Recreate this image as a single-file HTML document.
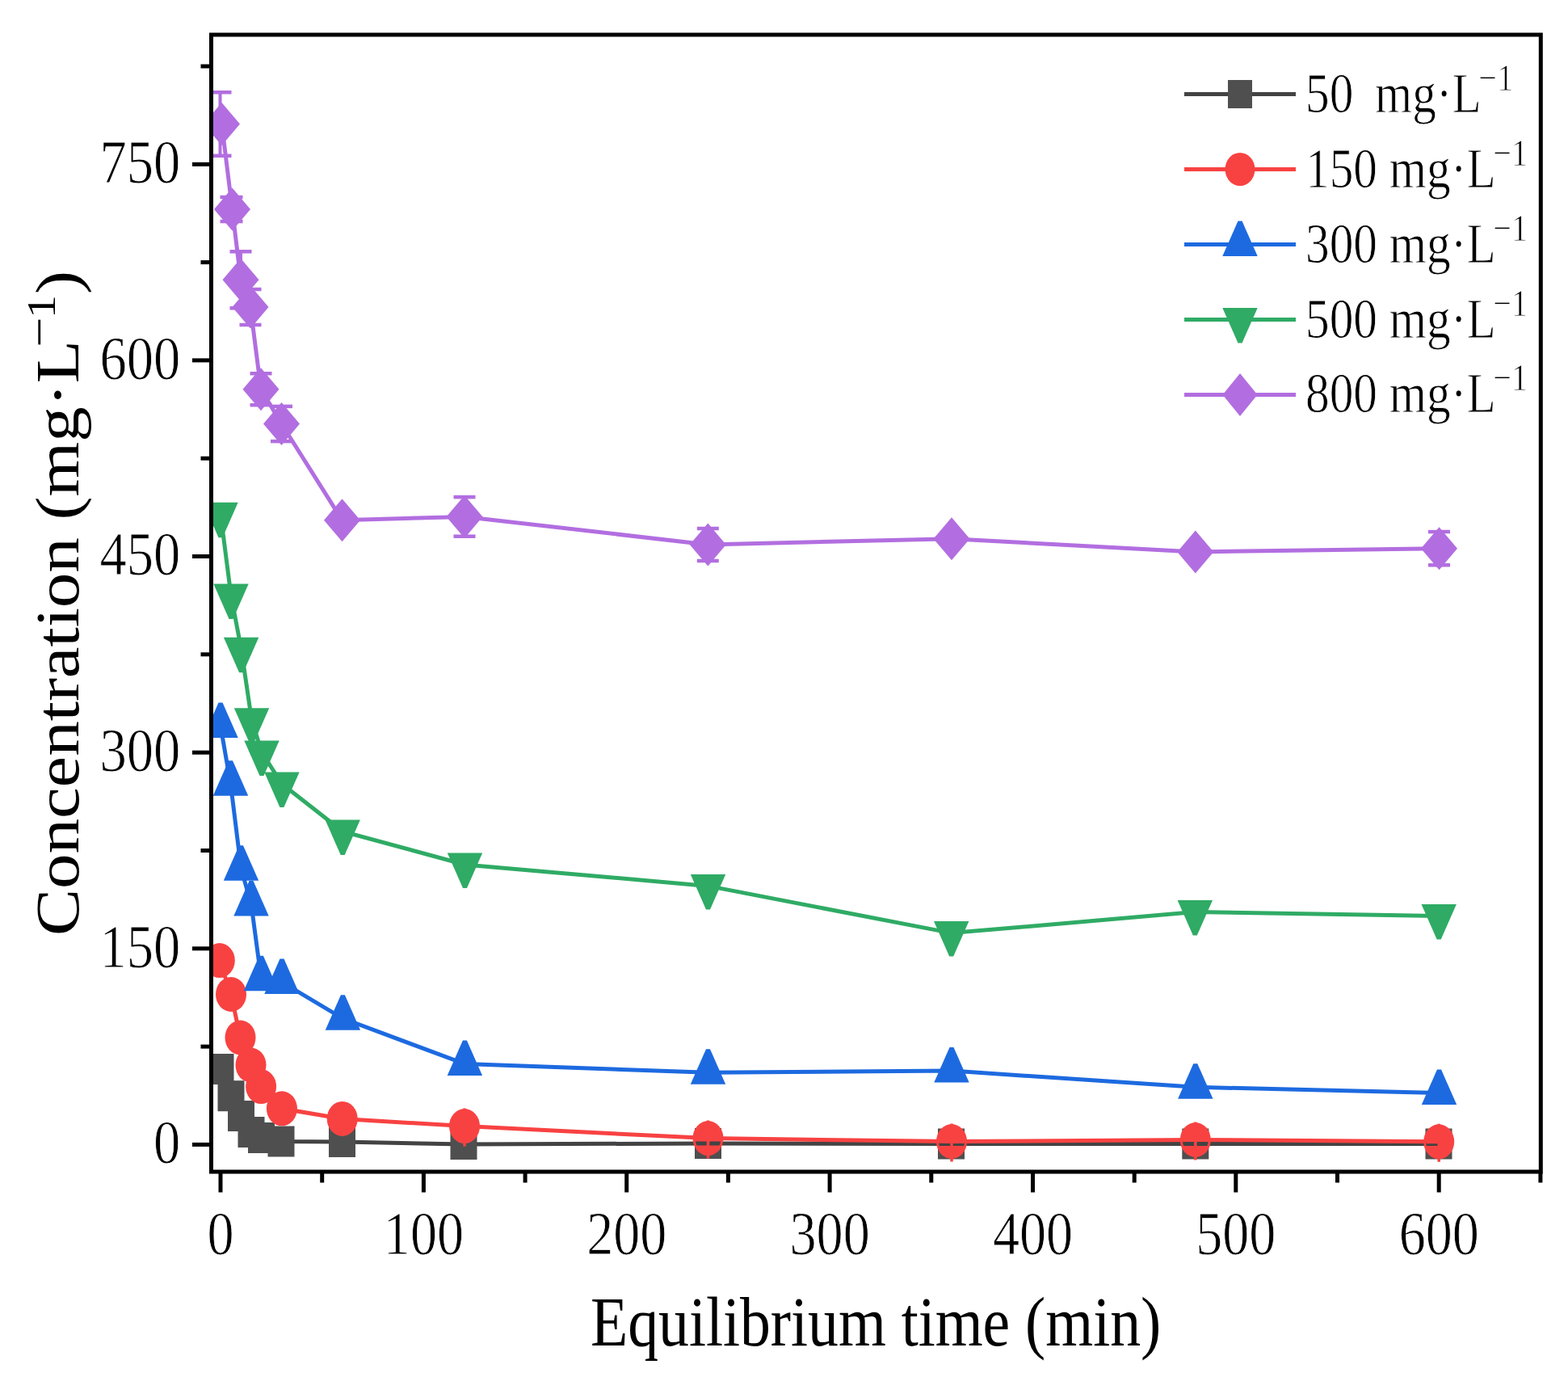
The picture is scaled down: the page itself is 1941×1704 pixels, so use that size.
<!DOCTYPE html>
<html><head><meta charset="utf-8"><title>Concentration vs Equilibrium time</title>
<style>html,body{margin:0;padding:0;background:#fff;} svg{display:block;}</style>
</head><body>
<svg width="1941" height="1704" viewBox="0 0 1941 1704">
<defs><clipPath id="pc"><rect x="264" y="45.5" width="1640.8" height="1402"/></clipPath></defs>
<rect x="0" y="0" width="1941" height="1704" fill="#ffffff"/>
<g clip-path="url(#pc)">
<polyline points="273.0,1323.0 286.0,1356.2 298.5,1381.0 311.0,1401.0 323.5,1408.0 348.0,1412.5 423.5,1413.0 574.0,1416.0 876.5,1415.0 1177.5,1415.5 1479.8,1415.5 1781.0,1415.5" fill="none" stroke="#434343" stroke-width="5" stroke-linejoin="miter"/>
<rect x="256.5" y="1304.0" width="33" height="38" fill="#4f4f4f"/>
<rect x="269.5" y="1337.2" width="33" height="38" fill="#4f4f4f"/>
<rect x="282.0" y="1362.0" width="33" height="38" fill="#4f4f4f"/>
<rect x="294.5" y="1382.0" width="33" height="38" fill="#4f4f4f"/>
<rect x="307.0" y="1389.0" width="33" height="38" fill="#4f4f4f"/>
<rect x="331.5" y="1393.5" width="33" height="38" fill="#4f4f4f"/>
<rect x="407.0" y="1394.0" width="33" height="38" fill="#4f4f4f"/>
<rect x="557.5" y="1397.0" width="33" height="38" fill="#4f4f4f"/>
<rect x="860.0" y="1396.0" width="33" height="38" fill="#4f4f4f"/>
<rect x="1161.0" y="1396.5" width="33" height="38" fill="#4f4f4f"/>
<rect x="1463.3" y="1396.5" width="33" height="38" fill="#4f4f4f"/>
<rect x="1764.5" y="1396.5" width="33" height="38" fill="#4f4f4f"/>
<polyline points="271.8,1188.6 286.0,1230.5 297.5,1284.0 310.5,1318.0 323.1,1344.6 348.9,1371.8 423.7,1384.4 575.0,1393.6 876.5,1408.6 1178.0,1412.5 1479.8,1410.5 1781.2,1412.8" fill="none" stroke="#f84242" stroke-width="5" stroke-linejoin="miter"/>
<ellipse cx="271.8" cy="1188.6" rx="19" ry="21.5" fill="#f84242"/>
<ellipse cx="286.0" cy="1230.5" rx="19" ry="21.5" fill="#f84242"/>
<ellipse cx="297.5" cy="1284.0" rx="19" ry="21.5" fill="#f84242"/>
<ellipse cx="310.5" cy="1318.0" rx="19" ry="21.5" fill="#f84242"/>
<ellipse cx="323.1" cy="1344.6" rx="19" ry="21.5" fill="#f84242"/>
<ellipse cx="348.9" cy="1371.8" rx="19" ry="21.5" fill="#f84242"/>
<ellipse cx="423.7" cy="1384.4" rx="19" ry="21.5" fill="#f84242"/>
<ellipse cx="575.0" cy="1393.6" rx="19" ry="21.5" fill="#f84242"/>
<ellipse cx="876.5" cy="1408.6" rx="19" ry="21.5" fill="#f84242"/>
<ellipse cx="1178.0" cy="1412.5" rx="19" ry="21.5" fill="#f84242"/>
<ellipse cx="1479.8" cy="1410.5" rx="19" ry="21.5" fill="#f84242"/>
<ellipse cx="1781.2" cy="1412.8" rx="19" ry="21.5" fill="#f84242"/>
<clipPath id="rc"><ellipse cx="575.0" cy="1393.6" rx="16" ry="18.5"/><ellipse cx="876.5" cy="1408.6" rx="16" ry="18.5"/><ellipse cx="1178.0" cy="1412.5" rx="16" ry="18.5"/><ellipse cx="1479.8" cy="1410.5" rx="16" ry="18.5"/><ellipse cx="1781.2" cy="1412.8" rx="16" ry="18.5"/></clipPath>
<g clip-path="url(#rc)"><polyline points="273.0,1323.0 286.0,1356.2 298.5,1381.0 311.0,1401.0 323.5,1408.0 348.0,1412.5 423.5,1413.0 574.0,1416.0 876.5,1415.0 1177.5,1415.5 1479.8,1415.5 1781.0,1415.5" fill="none" stroke="#434343" stroke-width="5" stroke-linejoin="miter"/><polyline points="271.8,1188.6 286.0,1230.5 297.5,1284.0 310.5,1318.0 323.1,1344.6 348.9,1371.8 423.7,1384.4 575.0,1393.6 876.5,1408.6 1178.0,1412.5 1479.8,1410.5 1781.2,1412.8" fill="none" stroke="#f84242" stroke-width="5" stroke-linejoin="miter"/></g>
<line x1="575.0" y1="1371.6" x2="575.0" y2="1418.6" stroke="#f84242" stroke-width="3.5"/>
<line x1="876.5" y1="1386.6" x2="876.5" y2="1433.6" stroke="#f84242" stroke-width="3.5"/>
<line x1="1178.0" y1="1390.5" x2="1178.0" y2="1437.5" stroke="#f84242" stroke-width="3.5"/>
<line x1="1479.8" y1="1388.5" x2="1479.8" y2="1435.5" stroke="#f84242" stroke-width="3.5"/>
<line x1="1781.2" y1="1390.8" x2="1781.2" y2="1437.8" stroke="#f84242" stroke-width="3.5"/>
<polyline points="273.0,898.5 285.5,970.3 298.5,1075.2 311.0,1118.9 323.4,1211.8 349.0,1215.4 424.4,1260.3 575.4,1316.6 876.5,1327.3 1178.0,1325.1 1479.8,1345.3 1781.5,1352.5" fill="none" stroke="#1d6ae0" stroke-width="5" stroke-linejoin="miter"/>
<polygon points="270.5,869.5 275.5,869.5 294.7,913.0 251.3,913.0" fill="#1d6ae0"/>
<polygon points="283.0,941.3 288.0,941.3 307.2,984.8 263.8,984.8" fill="#1d6ae0"/>
<polygon points="296.0,1046.2 301.0,1046.2 320.2,1089.7 276.8,1089.7" fill="#1d6ae0"/>
<polygon points="308.5,1089.9 313.5,1089.9 332.7,1133.4 289.3,1133.4" fill="#1d6ae0"/>
<polygon points="320.9,1182.8 325.9,1182.8 345.1,1226.3 301.7,1226.3" fill="#1d6ae0"/>
<polygon points="346.5,1186.4 351.5,1186.4 370.7,1229.9 327.3,1229.9" fill="#1d6ae0"/>
<polygon points="421.9,1231.3 426.9,1231.3 446.1,1274.8 402.7,1274.8" fill="#1d6ae0"/>
<polygon points="572.9,1287.6 577.9,1287.6 597.1,1331.1 553.7,1331.1" fill="#1d6ae0"/>
<polygon points="874.0,1298.3 879.0,1298.3 898.2,1341.8 854.8,1341.8" fill="#1d6ae0"/>
<polygon points="1175.5,1296.1 1180.5,1296.1 1199.7,1339.6 1156.3,1339.6" fill="#1d6ae0"/>
<polygon points="1477.3,1316.3 1482.3,1316.3 1501.5,1359.8 1458.1,1359.8" fill="#1d6ae0"/>
<polygon points="1779.0,1323.5 1784.0,1323.5 1803.2,1367.0 1759.8,1367.0" fill="#1d6ae0"/>
<polyline points="273.0,636.3 286.0,737.0 298.6,803.2 311.5,890.8 324.0,931.0 348.9,970.0 424.2,1028.9 575.5,1070.0 876.5,1096.4 1177.7,1154.6 1479.3,1128.6 1781.2,1133.4" fill="none" stroke="#2fab65" stroke-width="5" stroke-linejoin="miter"/>
<polygon points="251.3,621.8 294.7,621.8 275.5,665.3 270.5,665.3" fill="#2fab65"/>
<polygon points="264.3,722.5 307.7,722.5 288.5,766.0 283.5,766.0" fill="#2fab65"/>
<polygon points="276.9,788.7 320.3,788.7 301.1,832.2 296.1,832.2" fill="#2fab65"/>
<polygon points="289.8,876.3 333.2,876.3 314.0,919.8 309.0,919.8" fill="#2fab65"/>
<polygon points="302.3,916.5 345.7,916.5 326.5,960.0 321.5,960.0" fill="#2fab65"/>
<polygon points="327.2,955.5 370.6,955.5 351.4,999.0 346.4,999.0" fill="#2fab65"/>
<polygon points="402.5,1014.4 445.9,1014.4 426.7,1057.9 421.7,1057.9" fill="#2fab65"/>
<polygon points="553.8,1055.5 597.2,1055.5 578.0,1099.0 573.0,1099.0" fill="#2fab65"/>
<polygon points="854.8,1081.9 898.2,1081.9 879.0,1125.4 874.0,1125.4" fill="#2fab65"/>
<polygon points="1156.0,1140.1 1199.4,1140.1 1180.2,1183.6 1175.2,1183.6" fill="#2fab65"/>
<polygon points="1457.6,1114.1 1501.0,1114.1 1481.8,1157.6 1476.8,1157.6" fill="#2fab65"/>
<polygon points="1759.5,1118.9 1802.9,1118.9 1783.7,1162.4 1778.7,1162.4" fill="#2fab65"/>
<polyline points="274.5,153.5 287.5,259.0 298.0,346.3 310.0,380.0 323.0,481.7 348.5,524.5 423.5,643.7 575.0,639.4 876.3,674.0 1178.0,666.7 1479.8,682.9 1781.5,678.7" fill="none" stroke="#b26ee0" stroke-width="5" stroke-linejoin="miter"/>
<line x1="272.5" y1="114.2" x2="272.5" y2="192.8" stroke="#b26ee0" stroke-width="4"/><line x1="258.5" y1="114.2" x2="286.5" y2="114.2" stroke="#b26ee0" stroke-width="4.5"/><line x1="258.5" y1="192.8" x2="286.5" y2="192.8" stroke="#b26ee0" stroke-width="4.5"/>
<line x1="286.5" y1="244.0" x2="286.5" y2="274.0" stroke="#b26ee0" stroke-width="4"/><line x1="272.5" y1="244.0" x2="300.5" y2="244.0" stroke="#b26ee0" stroke-width="4.5"/><line x1="272.5" y1="274.0" x2="300.5" y2="274.0" stroke="#b26ee0" stroke-width="4.5"/>
<line x1="298.0" y1="311.3" x2="298.0" y2="381.3" stroke="#b26ee0" stroke-width="4"/><line x1="284.5" y1="311.3" x2="311.5" y2="311.3" stroke="#b26ee0" stroke-width="4.5"/><line x1="284.5" y1="381.3" x2="311.5" y2="381.3" stroke="#b26ee0" stroke-width="4.5"/>
<line x1="310.0" y1="358.0" x2="310.0" y2="402.0" stroke="#b26ee0" stroke-width="4"/><line x1="296.5" y1="358.0" x2="323.5" y2="358.0" stroke="#b26ee0" stroke-width="4.5"/><line x1="296.5" y1="402.0" x2="323.5" y2="402.0" stroke="#b26ee0" stroke-width="4.5"/>
<line x1="323.0" y1="462.2" x2="323.0" y2="501.2" stroke="#b26ee0" stroke-width="4"/><line x1="309.5" y1="462.2" x2="336.5" y2="462.2" stroke="#b26ee0" stroke-width="4.5"/><line x1="309.5" y1="501.2" x2="336.5" y2="501.2" stroke="#b26ee0" stroke-width="4.5"/>
<line x1="348.5" y1="502.9" x2="348.5" y2="546.1" stroke="#b26ee0" stroke-width="4"/><line x1="335.0" y1="502.9" x2="362.0" y2="502.9" stroke="#b26ee0" stroke-width="4.5"/><line x1="335.0" y1="546.1" x2="362.0" y2="546.1" stroke="#b26ee0" stroke-width="4.5"/>
<line x1="423.5" y1="638.7" x2="423.5" y2="648.7" stroke="#b26ee0" stroke-width="4"/><line x1="410.0" y1="638.7" x2="437.0" y2="638.7" stroke="#b26ee0" stroke-width="4.5"/><line x1="410.0" y1="648.7" x2="437.0" y2="648.7" stroke="#b26ee0" stroke-width="4.5"/>
<line x1="575.0" y1="615.1" x2="575.0" y2="663.7" stroke="#b26ee0" stroke-width="4"/><line x1="561.5" y1="615.1" x2="588.5" y2="615.1" stroke="#b26ee0" stroke-width="4.5"/><line x1="561.5" y1="663.7" x2="588.5" y2="663.7" stroke="#b26ee0" stroke-width="4.5"/>
<line x1="876.3" y1="654.0" x2="876.3" y2="694.0" stroke="#b26ee0" stroke-width="4"/><line x1="862.8" y1="654.0" x2="889.8" y2="654.0" stroke="#b26ee0" stroke-width="4.5"/><line x1="862.8" y1="694.0" x2="889.8" y2="694.0" stroke="#b26ee0" stroke-width="4.5"/>
<line x1="1178.0" y1="661.7" x2="1178.0" y2="671.7" stroke="#b26ee0" stroke-width="4"/><line x1="1164.5" y1="661.7" x2="1191.5" y2="661.7" stroke="#b26ee0" stroke-width="4.5"/><line x1="1164.5" y1="671.7" x2="1191.5" y2="671.7" stroke="#b26ee0" stroke-width="4.5"/>
<line x1="1479.8" y1="677.9" x2="1479.8" y2="687.9" stroke="#b26ee0" stroke-width="4"/><line x1="1466.3" y1="677.9" x2="1493.3" y2="677.9" stroke="#b26ee0" stroke-width="4.5"/><line x1="1466.3" y1="687.9" x2="1493.3" y2="687.9" stroke="#b26ee0" stroke-width="4.5"/>
<line x1="1781.5" y1="658.1" x2="1781.5" y2="699.3" stroke="#b26ee0" stroke-width="4"/><line x1="1768.0" y1="658.1" x2="1795.0" y2="658.1" stroke="#b26ee0" stroke-width="4.5"/><line x1="1768.0" y1="699.3" x2="1795.0" y2="699.3" stroke="#b26ee0" stroke-width="4.5"/>
<polygon points="274.5,127.0 297.0,153.5 274.5,180.0 252.0,153.5" fill="#b26ee0"/>
<polygon points="287.5,232.5 310.0,259.0 287.5,285.5 265.0,259.0" fill="#b26ee0"/>
<polygon points="298.0,319.8 320.5,346.3 298.0,372.8 275.5,346.3" fill="#b26ee0"/>
<polygon points="310.0,353.5 332.5,380.0 310.0,406.5 287.5,380.0" fill="#b26ee0"/>
<polygon points="323.0,455.2 345.5,481.7 323.0,508.2 300.5,481.7" fill="#b26ee0"/>
<polygon points="348.5,498.0 371.0,524.5 348.5,551.0 326.0,524.5" fill="#b26ee0"/>
<polygon points="423.5,617.2 446.0,643.7 423.5,670.2 401.0,643.7" fill="#b26ee0"/>
<polygon points="575.0,612.9 597.5,639.4 575.0,665.9 552.5,639.4" fill="#b26ee0"/>
<polygon points="876.3,647.5 898.8,674.0 876.3,700.5 853.8,674.0" fill="#b26ee0"/>
<polygon points="1178.0,640.2 1200.5,666.7 1178.0,693.2 1155.5,666.7" fill="#b26ee0"/>
<polygon points="1479.8,656.4 1502.3,682.9 1479.8,709.4 1457.3,682.9" fill="#b26ee0"/>
<polygon points="1781.5,652.2 1804.0,678.7 1781.5,705.2 1759.0,678.7" fill="#b26ee0"/>
</g>
<line x1="238.0" y1="1416.4" x2="261.5" y2="1416.4" stroke="#000" stroke-width="5"/>
<line x1="248.5" y1="1295.1" x2="261.5" y2="1295.1" stroke="#000" stroke-width="5"/>
<line x1="238.0" y1="1173.8" x2="261.5" y2="1173.8" stroke="#000" stroke-width="5"/>
<line x1="248.5" y1="1052.5" x2="261.5" y2="1052.5" stroke="#000" stroke-width="5"/>
<line x1="238.0" y1="931.2" x2="261.5" y2="931.2" stroke="#000" stroke-width="5"/>
<line x1="248.5" y1="809.8" x2="261.5" y2="809.8" stroke="#000" stroke-width="5"/>
<line x1="238.0" y1="688.5" x2="261.5" y2="688.5" stroke="#000" stroke-width="5"/>
<line x1="248.5" y1="567.2" x2="261.5" y2="567.2" stroke="#000" stroke-width="5"/>
<line x1="238.0" y1="445.9" x2="261.5" y2="445.9" stroke="#000" stroke-width="5"/>
<line x1="248.5" y1="324.6" x2="261.5" y2="324.6" stroke="#000" stroke-width="5"/>
<line x1="238.0" y1="203.3" x2="261.5" y2="203.3" stroke="#000" stroke-width="5"/>
<line x1="248.5" y1="82.0" x2="261.5" y2="82.0" stroke="#000" stroke-width="5"/>
<line x1="273.0" y1="1450.0" x2="273.0" y2="1475.5" stroke="#000" stroke-width="5"/>
<line x1="398.7" y1="1450.0" x2="398.7" y2="1463.5" stroke="#000" stroke-width="5"/>
<line x1="524.4" y1="1450.0" x2="524.4" y2="1475.5" stroke="#000" stroke-width="5"/>
<line x1="650.1" y1="1450.0" x2="650.1" y2="1463.5" stroke="#000" stroke-width="5"/>
<line x1="775.7" y1="1450.0" x2="775.7" y2="1475.5" stroke="#000" stroke-width="5"/>
<line x1="901.4" y1="1450.0" x2="901.4" y2="1463.5" stroke="#000" stroke-width="5"/>
<line x1="1027.1" y1="1450.0" x2="1027.1" y2="1475.5" stroke="#000" stroke-width="5"/>
<line x1="1152.8" y1="1450.0" x2="1152.8" y2="1463.5" stroke="#000" stroke-width="5"/>
<line x1="1278.5" y1="1450.0" x2="1278.5" y2="1475.5" stroke="#000" stroke-width="5"/>
<line x1="1404.2" y1="1450.0" x2="1404.2" y2="1463.5" stroke="#000" stroke-width="5"/>
<line x1="1529.8" y1="1450.0" x2="1529.8" y2="1475.5" stroke="#000" stroke-width="5"/>
<line x1="1655.5" y1="1450.0" x2="1655.5" y2="1463.5" stroke="#000" stroke-width="5"/>
<line x1="1781.2" y1="1450.0" x2="1781.2" y2="1475.5" stroke="#000" stroke-width="5"/>
<line x1="1906.9" y1="1450.0" x2="1906.9" y2="1463.5" stroke="#000" stroke-width="5"/>
<rect x="261.5" y="43" width="1645.8" height="1407.0" fill="none" stroke="#000" stroke-width="5"/>
<text font-family="'Liberation Serif','Times New Roman',serif" stroke="#fff" stroke-width="0.9" font-size="76.5" text-anchor="end" transform="translate(223.3,1439.2) scale(0.87,1)">0</text>
<text font-family="'Liberation Serif','Times New Roman',serif" stroke="#fff" stroke-width="0.9" font-size="76.5" text-anchor="end" transform="translate(223.3,1196.6) scale(0.87,1)">150</text>
<text font-family="'Liberation Serif','Times New Roman',serif" stroke="#fff" stroke-width="0.9" font-size="76.5" text-anchor="end" transform="translate(223.3,954.0) scale(0.87,1)">300</text>
<text font-family="'Liberation Serif','Times New Roman',serif" stroke="#fff" stroke-width="0.9" font-size="76.5" text-anchor="end" transform="translate(223.3,711.3) scale(0.87,1)">450</text>
<text font-family="'Liberation Serif','Times New Roman',serif" stroke="#fff" stroke-width="0.9" font-size="76.5" text-anchor="end" transform="translate(223.3,468.7) scale(0.87,1)">600</text>
<text font-family="'Liberation Serif','Times New Roman',serif" stroke="#fff" stroke-width="0.9" font-size="76.5" text-anchor="end" transform="translate(223.3,226.1) scale(0.87,1)">750</text>
<text font-family="'Liberation Serif','Times New Roman',serif" stroke="#fff" stroke-width="0.9" font-size="76" text-anchor="middle" transform="translate(273.0,1552.3) scale(0.87,1)">0</text>
<text font-family="'Liberation Serif','Times New Roman',serif" stroke="#fff" stroke-width="0.9" font-size="76" text-anchor="middle" transform="translate(524.4,1552.3) scale(0.87,1)">100</text>
<text font-family="'Liberation Serif','Times New Roman',serif" stroke="#fff" stroke-width="0.9" font-size="76" text-anchor="middle" transform="translate(775.7,1552.3) scale(0.87,1)">200</text>
<text font-family="'Liberation Serif','Times New Roman',serif" stroke="#fff" stroke-width="0.9" font-size="76" text-anchor="middle" transform="translate(1027.1,1552.3) scale(0.87,1)">300</text>
<text font-family="'Liberation Serif','Times New Roman',serif" stroke="#fff" stroke-width="0.9" font-size="76" text-anchor="middle" transform="translate(1278.5,1552.3) scale(0.87,1)">400</text>
<text font-family="'Liberation Serif','Times New Roman',serif" stroke="#fff" stroke-width="0.9" font-size="76" text-anchor="middle" transform="translate(1529.8,1552.3) scale(0.87,1)">500</text>
<text font-family="'Liberation Serif','Times New Roman',serif" stroke="#fff" stroke-width="0.9" font-size="76" text-anchor="middle" transform="translate(1781.2,1552.3) scale(0.87,1)">600</text>
<text font-family="'Liberation Serif','Times New Roman',serif" font-size="87" transform="translate(731,1665) scale(0.87,1)">Equilibrium time (min)</text>
<text font-family="'Liberation Serif','Times New Roman',serif" font-size="87" transform="translate(97,1158) rotate(-90) scale(1,0.87)">Concentration (mg·L<tspan font-size="66" dx="-8.5" dy="-33">−</tspan><tspan font-size="58" dx="-1.5">1</tspan><tspan dx="1" dy="33">)</tspan></text>
<line x1="1466" y1="116.5" x2="1604" y2="116.5" stroke="#434343" stroke-width="5"/>
<rect x="1520.0" y="99.0" width="30" height="35" fill="#4f4f4f"/>
<text font-family="'Liberation Serif','Times New Roman',serif" stroke="#fff" stroke-width="0.9" font-size="69" xml:space="preserve" transform="translate(1616,138.8) scale(0.86,1)">50  <tspan dx="-3.5">mg·L</tspan><tspan font-size="47" dx="-4" dy="-27">−1</tspan></text>
<line x1="1466" y1="209.5" x2="1604" y2="209.5" stroke="#f84242" stroke-width="5"/>
<ellipse cx="1535.0" cy="209.5" rx="18.5" ry="20.5" fill="#f84242"/>
<text font-family="'Liberation Serif','Times New Roman',serif" stroke="#fff" stroke-width="0.9" font-size="69" xml:space="preserve" transform="translate(1616,231.7) scale(0.86,1)">150 <tspan dx="0">mg·L</tspan><tspan font-size="47" dx="-4" dy="-27">−1</tspan></text>
<line x1="1466" y1="302.5" x2="1604" y2="302.5" stroke="#1d6ae0" stroke-width="5"/>
<polygon points="1532.5,273.5 1537.5,273.5 1556.7,317.0 1513.3,317.0" fill="#1d6ae0"/>
<text font-family="'Liberation Serif','Times New Roman',serif" stroke="#fff" stroke-width="0.9" font-size="69" xml:space="preserve" transform="translate(1616,324.6) scale(0.86,1)">300 <tspan dx="0">mg·L</tspan><tspan font-size="47" dx="-4" dy="-27">−1</tspan></text>
<line x1="1466" y1="395.5" x2="1604" y2="395.5" stroke="#2fab65" stroke-width="5"/>
<polygon points="1513.3,381.0 1556.7,381.0 1537.5,424.5 1532.5,424.5" fill="#2fab65"/>
<text font-family="'Liberation Serif','Times New Roman',serif" stroke="#fff" stroke-width="0.9" font-size="69" xml:space="preserve" transform="translate(1616,417.5) scale(0.86,1)">500 <tspan dx="0">mg·L</tspan><tspan font-size="47" dx="-4" dy="-27">−1</tspan></text>
<line x1="1466" y1="488.5" x2="1604" y2="488.5" stroke="#b26ee0" stroke-width="5"/>
<polygon points="1535.0,462.0 1556.5,488.5 1535.0,515.0 1513.5,488.5" fill="#b26ee0"/>
<text font-family="'Liberation Serif','Times New Roman',serif" stroke="#fff" stroke-width="0.9" font-size="69" xml:space="preserve" transform="translate(1616,510.4) scale(0.86,1)">800 <tspan dx="0">mg·L</tspan><tspan font-size="47" dx="-4" dy="-27">−1</tspan></text>
</svg>
</body></html>
